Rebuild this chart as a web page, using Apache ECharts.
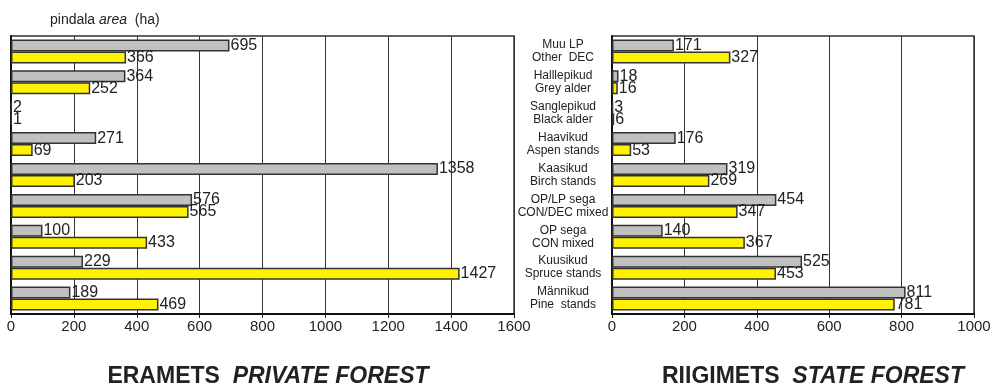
<!DOCTYPE html>
<html>
<head>
<meta charset="utf-8">
<script src="https://cdn.jsdelivr.net/npm/echarts@6/dist/echarts.min.js"></script>
<style>
  html, body { margin: 0; padding: 0; background: #fff; }
  #chart { width: 996px; height: 386px; }
</style>
</head>
<body>
<div id="chart"></div>
<script>
// stand types, top to bottom
const categories = [
    'Muu LP\nOther  DEC',
    'Halllepikud\nGrey alder',
    'Sanglepikud\nBlack alder',
    'Haavikud\nAspen stands',
    'Kaasikud\nBirch stands',
    'OP/LP sega\nCON/DEC mixed',
    'OP sega\nCON mixed',
    'Kuusikud\nSpruce stands',
    'Männikud\nPine  stands'
];
// private forest (ha)
const privateGray = [695, 364, 2, 271, 1358, 576, 100, 229, 189];
const privateYellow = [366, 252, 1, 69, 203, 565, 433, 1427, 469];
// state forest (ha)
const stateGray = [171, 18, 3, 176, 319, 454, 140, 525, 811];
const stateYellow = [327, 16, 6, 53, 269, 347, 367, 453, 781];

const FONT = 'Liberation Sans, Arial, sans-serif';

function valueAxis(gridIndex, max) {
    return {
        type: 'value', gridIndex: gridIndex, min: 0, max: max, interval: 200,
        axisLine: { show: true, lineStyle: { color: '#111', width: 2 } },
        axisTick: { show: true, length: 4, lineStyle: { color: '#111' } },
        axisLabel: {
            color: '#222', fontSize: 15, fontFamily: FONT, margin: 5,
            formatter: function (v) { return String(v); }
        },
        splitLine: { show: true, lineStyle: { color: '#333', width: 1 } }
    };
}

function catAxis(gridIndex, showLabels) {
    return {
        type: 'category', gridIndex: gridIndex, data: categories, inverse: true,
        axisLine: { show: true, lineStyle: { color: '#111', width: 2 } },
        axisTick: { show: false },
        axisLabel: {
            show: showLabels, color: '#222', fontSize: 12, fontFamily: FONT,
            align: 'center', margin: 49, lineHeight: 13,
            width: 110, overflow: 'none'
        },
        splitLine: { show: false }
    };
}

function barSeries(idx, data, color) {
    return {
        type: 'bar', xAxisIndex: idx, yAxisIndex: idx, data: data,
        barWidth: 12, barGap: '0%',
        itemStyle: { color: color, borderColor: '#333', borderWidth: 1.5 },
        label: {
            show: true, position: 'right', distance: 1,
            color: '#222', fontSize: 16, fontFamily: FONT
        },
        silent: true, animation: false
    };
}

const titleRich = {
    b: { fontSize: 23, fontWeight: 'bold', color: '#222', fontFamily: FONT },
    i: { fontSize: 23, fontWeight: 'bold', fontStyle: 'italic', color: '#222', fontFamily: FONT }
};

const chart = echarts.init(document.getElementById('chart'));
chart.setOption({
    backgroundColor: '#fff',
    animation: false,
    title: [
        {
            text: '{n|pindala }{i|area}{n|  (ha)}', left: 45, top: 8,
            textStyle: { fontWeight: 'normal', rich: {
                n: { fontSize: 14, color: '#222', fontFamily: FONT, fontWeight: 'normal' },
                i: { fontSize: 14, color: '#222', fontFamily: FONT, fontStyle: 'italic', fontWeight: 'normal' }
            } }
        },
        {
            text: '{b|ERAMETS  }{i|PRIVATE FOREST}', left: 263, top: 360, textAlign: 'center',
            textStyle: { rich: titleRich }
        },
        {
            text: '{b|RIIGIMETS  }{i|STATE FOREST}', left: 808, top: 360, textAlign: 'center',
            textStyle: { rich: titleRich }
        }
    ],
    grid: [
        { left: 11, right: 482, top: 36, bottom: 72, show: true, borderColor: '#333', borderWidth: 1.5 },
        { left: 612, right: 22, top: 36, bottom: 72, show: true, borderColor: '#333', borderWidth: 1.5 }
    ],
    xAxis: [valueAxis(0, 1600), valueAxis(1, 1000)],
    yAxis: [catAxis(0, false), catAxis(1, true)],
    series: [
        barSeries(0, privateGray, '#c0c0c0'),
        barSeries(0, privateYellow, '#fff200'),
        barSeries(1, stateGray, '#c0c0c0'),
        barSeries(1, stateYellow, '#fff200')
    ]
});
</script>
</body>
</html>
